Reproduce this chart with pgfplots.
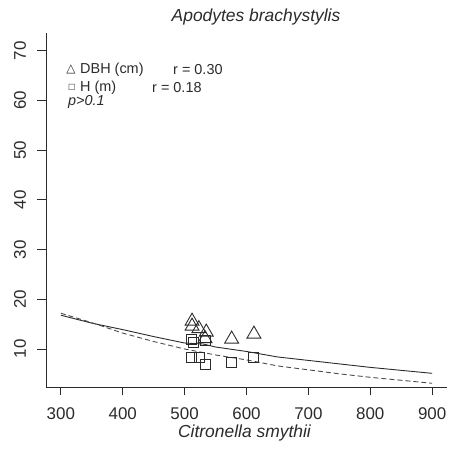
\documentclass[border=0pt]{standalone}
\usepackage{pgfplots}
\pgfplotsset{compat=1.18}
\usepackage{fontspec}
\setmainfont{Liberation Sans}
\newfontfamily\dejavu{DejaVu Sans}
\definecolor{ink}{HTML}{2B2B2B}
\begin{document}
\begin{tikzpicture}[x=1bp,y=1bp]
\begin{axis}[
  at={(0,0)}, anchor=south west,
  scale only axis, width=401bp, height=354bp,
  xmin=276, xmax=924, ymin=2.35, ymax=73.6,
  axis lines=left,
  axis line style={-, line width=0.9pt, color=ink},
  xtick={300,400,...,900}, ytick={10,20,...,70},
  tick align=outside, major tick length=8.5bp,
  tick style={line width=0.9pt, color=ink},
  /pgf/number format/assume math mode=true,
  ticklabel style={font=\fontsize{17}{17}\selectfont, color=ink},
  yticklabel style={rotate=90, anchor=south},
  xticklabel style={anchor=north},
  yticklabel shift=8bp,
  xticklabel shift=9bp,
  clip=false,
]
% fitted curves
\addplot[ink, line width=0.9pt] coordinates {
(300,16.8) (350,15.2) (400,13.9) (450,12.5) (500,11.2) (530,11.0) (550,10.4)
(600,9.5) (650,8.4) (700,7.7) (750,7.0) (800,6.3) (850,5.7) (900,5.1)};
\addplot[ink!85, line width=0.9pt, dash pattern=on 5bp off 3bp] coordinates {
(300,17.2) (350,15.3) (400,13.2) (450,11.5) (500,10.0) (550,8.8) (600,7.8)
(650,6.6) (700,5.8) (750,5.0) (800,4.3) (850,3.7) (900,3.1)};
% DBH
\addplot[only marks, mark=triangle, mark size=8bp, mark options={ink, line width=0.9pt}] coordinates {
(512,15.6) (512,14.6) (523,14.1) (535,13.4) (533,12.1) (576,12.0) (612,13.0)};
% H
\addplot[only marks, mark=square, mark size=5bp, mark options={ink, line width=0.9pt}] coordinates {
(511,12.0) (514,11.4) (533,11.8) (511,8.2) (524,8.2) (533,6.8) (576,7.2) (612,8.2)};
\end{axis}
% legend text
\begin{scope}[every node/.style={inner sep=0pt, text=ink, font=\fontsize{14.5}{14.5}\selectfont}]
\node[anchor=center] at (25,318) {\dejavu\fontsize{12}{12}\selectfont △};
\node[anchor=west] at (34,317) {DBH (cm)};
\node[anchor=west] at (127,317) {r = 0.30};
\node[anchor=center] at (26,300) {\dejavu\fontsize{8}{8}\selectfont □};
\node[anchor=west] at (34,299.5) {H (m)};
\node[anchor=west] at (106,299.5) {r = 0.18};
\node[anchor=west] at (22,285) {\itshape p>0.1};
\end{scope}
\node[text=ink, inner sep=0pt, font=\fontsize{17.5}{17.5}\selectfont\itshape] at (198.5,-46) {Citronella smythii};
\node[text=ink, inner sep=0pt, font=\fontsize{17.5}{17.5}\selectfont\itshape] at (210,370) {Apodytes brachystylis};
\pgfresetboundingbox
\useasboundingbox (-46,-62) rectangle (405,387);
\end{tikzpicture}
\end{document}
